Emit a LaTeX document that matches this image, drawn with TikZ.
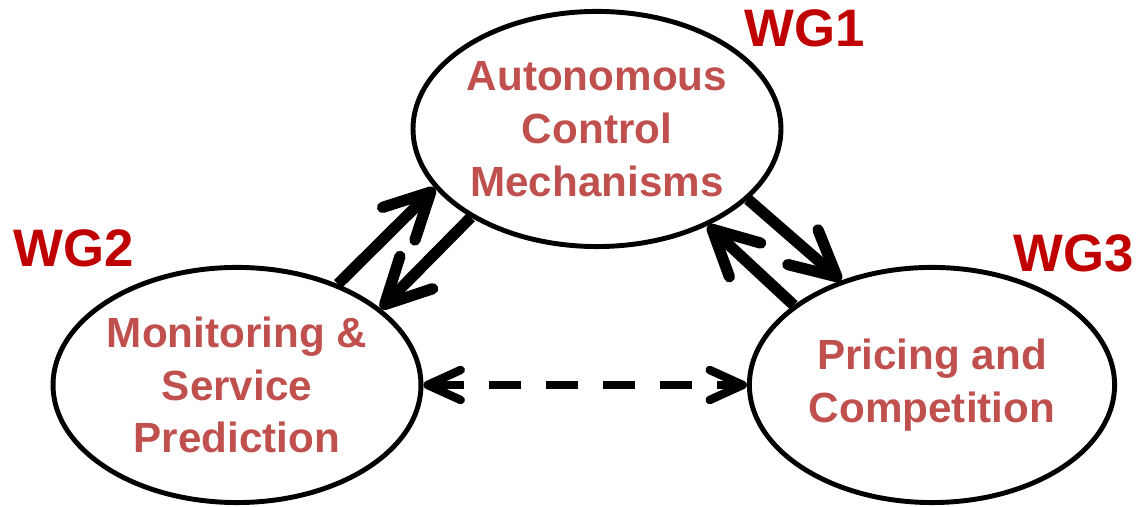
\documentclass[tikz,border=0pt]{standalone}
\usepackage{fontspec}
\setmainfont{Liberation Sans}
\usetikzlibrary{arrows.meta,shapes.geometric}
\definecolor{wgtext}{HTML}{C0504D}
\definecolor{wglabel}{HTML}{C00000}

\begin{document}
\begin{tikzpicture}[x=0.01cm,y=-0.01cm,
    wg/.style={ellipse,draw,line width=1.4pt,minimum width=3.65cm,minimum height=2.35cm,
      inner sep=0pt,align=center,text=wgtext,font=\fontsize{12}{15}\selectfont\bfseries},
    tag/.style={text=wglabel,font=\fontsize{15}{17}\selectfont\bfseries},
    link/.style={line width=3.2pt,-{Straight Barb[length=4.5mm,width=4.6mm,round]}}]
  \useasboundingbox (0,0) rectangle (1138,507);

  % Working groups
  \node[wg] (acm) at (597,129) {Autonomous\\Control\\Mechanisms};
  \node[wg] (msp) at (237,385) {Monitoring \&\\Service\\Prediction};
  \node[wg] (pc)  at (932,385) {Pricing and\\Competition};

  % Group labels
  \node[tag] (wg1) at (805,28)  {WG1};
  \node[tag] (wg2) at (74,248)  {WG2};
  \node[tag] (wg3) at (1074,253) {WG3};

  % Links between groups
  \draw[link] (msp.45)  -- (acm.200);
  \draw[link] (acm.215) -- (msp.28);
  \draw[link] (acm.335) -- (pc.131);
  \draw[link] (pc.150)  -- (acm.319);
  \draw[line width=2.4pt,dash pattern=on 0.32cm off 0.25cm,
    {Straight Barb[length=3.3mm,width=3mm,round]}-{Straight Barb[length=3.3mm,width=3mm,round]}]
    (msp.east) -- (pc.west);
\end{tikzpicture}
\end{document}
